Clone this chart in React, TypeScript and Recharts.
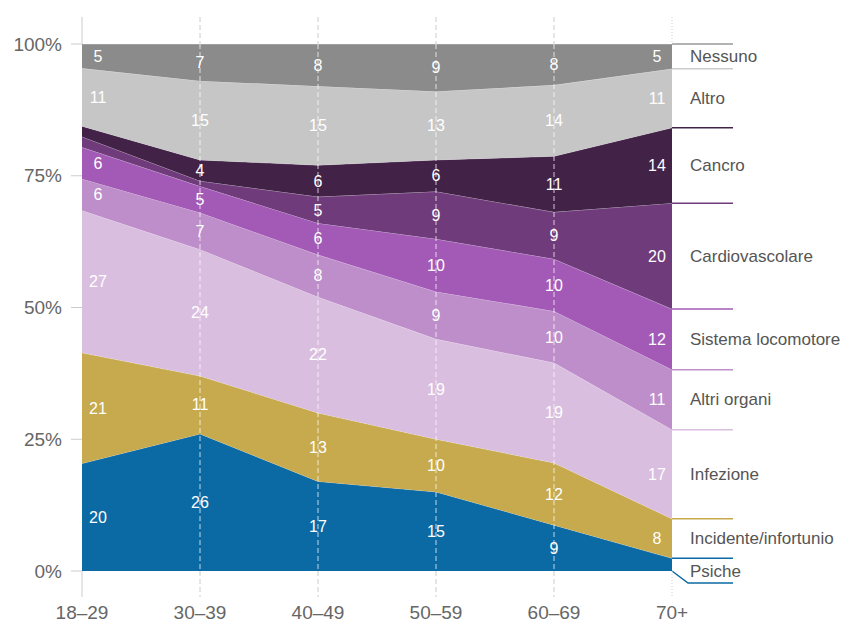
import React from 'react';
import { ComposedChart, Area, Line, XAxis, YAxis, LabelList } from 'recharts';

const ages = ['18–29', '30–39', '40–49', '50–59', '60–69', '70+'];

const psiche = [20.4, 26, 17, 15, 8.7, 2.4];
const incidente = [21, 11, 13, 10, 11.8, 7.5];
const infezione = [27, 24, 22, 19, 19, 16.9];
const altriOrgani = [6, 7, 8, 9, 9.8, 11.4];
const locomotore = [6, 5, 6, 10, 9.9, 11.5];
const cardio = [2, 1, 5, 9, 8.9, 20.1];
const cancro = [2, 4, 6, 6, 10.6, 14.3];
const altro = [11, 15, 15, 13, 13.5, 11.2];
const nessuno = [4.6, 7, 8, 9, 7.8, 4.7];

const yTicks = [0, 25, 50, 75, 100];

const FONT = '"Liberation Sans", Arial, Helvetica, sans-serif';
const W = 845;
const H = 621;
const PLOT_TOP = 44;
const PLOT_BOTTOM = 571;
const LINE_TOP = 17;
const LINE_BOTTOM = 597;

const series = [
  { key: 'Psiche', values: psiche, color: '#0b69a3', legend: '#0b69a3' },
  { key: 'Incidente/infortunio', values: incidente, color: '#c6aa4d', legend: '#c6aa4d' },
  { key: 'Infezione', values: infezione, color: '#d9bedf', legend: '#d9bedf' },
  { key: 'Altri organi', values: altriOrgani, color: '#bd8ec9', legend: '#bd8ec9' },
  { key: 'Sistema locomotore', values: locomotore, color: '#a35ab6', legend: '#a35ab6' },
  { key: 'Cardiovascolare', values: cardio, color: '#6f3b7b', legend: '#6f3b7b' },
  { key: 'Cancro', values: cancro, color: '#432248', legend: '#432248' },
  { key: 'Altro', values: altro, color: '#c6c6c6', legend: '#cccccc' },
  { key: 'Nessuno', values: nessuno, color: '#8b8b8b', legend: '#999999' },
];

const data = ages.map((age, i) => {
  const row: any = { age, base: 0 };
  let cum = 0;
  series.forEach((s, si) => {
    const v = s.values[i];
    row['v' + si] = v;
    row['mid' + si] = cum + v / 2;
    row['lbl' + si] = v >= 3 ? String(Math.round(v)) : '';
    cum += v;
  });
  return row;
});

const LAST = ages.length - 1;

const makeMidLabel = (si: number) => (props: any) => {
  const { x, y, value, index } = props;
  const s = series[si];
  const parts: any[] = [];
  if (value !== undefined && value !== null && value !== '') {
    const lx = index === 0 ? x + 16 : index === LAST ? x - 15 : x;
    parts.push(
      <text key="v" x={lx} y={y} textAnchor="middle" dominantBaseline="central"
        fill="#ffffff" fontSize={16} fontFamily={FONT}>{value}</text>
    );
  }
  if (index === LAST && si !== 0) {
    parts.push(
      <text key="n" x={x + 18} y={y} textAnchor="start" dominantBaseline="central"
        fill="#555555" fontSize={17} fontFamily={FONT}>{s.key}</text>
    );
  }
  return <g>{parts}</g>;
};

const makeTopLine = (si: number) => (props: any) => {
  const { x, y, index } = props;
  if (index !== LAST) return null;
  return <line x1={x} x2={x + 61} y1={y} y2={y} stroke={series[si].legend} strokeWidth={1.5} />;
};

const baseLabel = (props: any) => {
  const { x, y, index } = props;
  if (index !== LAST) return null;
  const s = series[0];
  return (
    <g>
      <polyline points={`${x},${y} ${x + 16},${y + 12} ${x + 61},${y + 12}`} fill="none"
        stroke={s.legend} strokeWidth={1.5} />
      <text x={x + 18} y={y} textAnchor="start" dominantBaseline="central"
        fill="#555555" fontSize={17} fontFamily={FONT}>{s.key}</text>
    </g>
  );
};

const XTick = (props: any) => {
  const { x, payload, index } = props;
  const first = index === 0;
  const last = index === LAST;
  const outer = first ? undefined : last ? '1 2' : '5 3';
  return (
    <g>
      <line x1={x} x2={x} y1={LINE_TOP} y2={PLOT_TOP} stroke="#cccccc" strokeWidth={1} strokeDasharray={outer} />
      <line x1={x} x2={x} y1={PLOT_BOTTOM} y2={LINE_BOTTOM} stroke="#cccccc" strokeWidth={1} strokeDasharray={outer} />
      {!first && !last && (
        <line x1={x} x2={x} y1={PLOT_TOP} y2={PLOT_BOTTOM} stroke="#ffffff" strokeOpacity={0.75}
          strokeWidth={1} strokeDasharray="5 3" />
      )}
      <text x={x} y={612} textAnchor="middle" dominantBaseline="central" fill="#666666"
        fontSize={19} fontFamily={FONT}>{payload.value}</text>
    </g>
  );
};

export default function App() {
  return (
    <div style={{ position: 'absolute', left: 0, top: 0, width: W, height: H, background: '#ffffff' }}>
      <ComposedChart width={W} height={H} data={data}
        margin={{ top: PLOT_TOP, right: 173, bottom: 0, left: 0 }} style={{ fontFamily: FONT }}>
        <YAxis type="number" domain={[0, 100]} ticks={yTicks} allowDataOverflow width={82}
          tickFormatter={(v: number) => `${v}%`} axisLine={false}
          tickLine={{ stroke: '#cccccc' }} tickSize={11} tickMargin={9}
          tick={{ fill: '#666666', fontSize: 19, fontFamily: FONT }} />
        {series.map((s, si) => (
          <Area key={s.key} dataKey={'v' + si} stackId="1" type="linear" fill={s.color} fillOpacity={1}
            stroke="#ffffff" strokeOpacity={0.45} strokeWidth={0.8} isAnimationActive={false}
            dot={false} activeDot={false}>
            <LabelList dataKey={'v' + si} content={makeTopLine(si)} />
          </Area>
        ))}
        {series.map((s, si) => (
          <Line key={'m' + s.key} dataKey={'mid' + si} stroke="none" dot={false} activeDot={false}
            isAnimationActive={false} legendType="none">
            <LabelList dataKey={'lbl' + si} content={makeMidLabel(si)} />
          </Line>
        ))}
        <Line dataKey="base" stroke="none" dot={false} activeDot={false} isAnimationActive={false}>
          <LabelList dataKey="base" content={baseLabel} />
        </Line>
        <XAxis dataKey="age" height={50} axisLine={false} tickLine={false} tickSize={0} tickMargin={0}
          interval={0} tick={XTick} />
      </ComposedChart>
    </div>
  );
}
